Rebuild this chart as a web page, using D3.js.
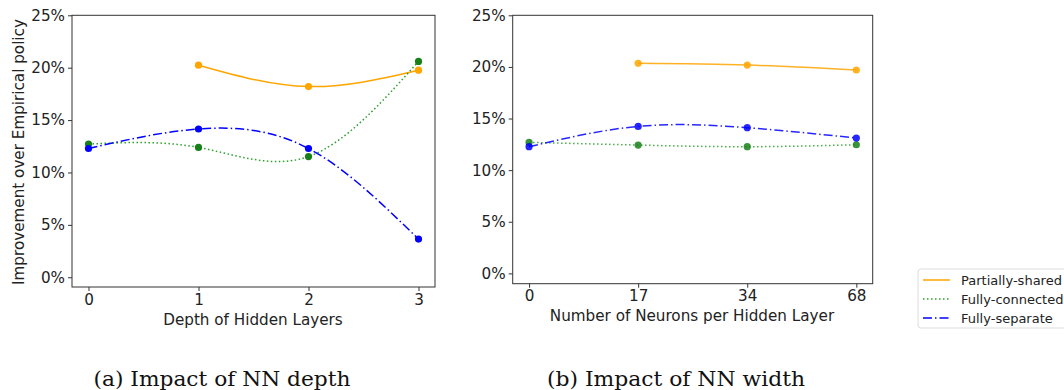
<!DOCTYPE html>
<html>
<head>
<meta charset="utf-8">
<script src="https://cdn.jsdelivr.net/npm/d3@7"></script>
<style>
  body { margin: 0; background: #fff; }
  svg { display: block; }
  .tick text { font-family: "DejaVu Sans", sans-serif; font-size: 15.2px; fill: #222; }
  .lbl { font-family: "DejaVu Sans", sans-serif; font-size: 15.2px; fill: #222; }
  .cap { font-family: "DejaVu Serif", "Liberation Serif", serif; font-size: 21px; fill: #111; }
  .leg { font-family: "DejaVu Sans", sans-serif; font-size: 13px; fill: #222; }
</style>
</head>
<body>
<script>
// data (percent improvement)
var depthTicks = ["0", "1", "2", "3"];
var depthShared = [null, 20.24, 18.2, 19.76];
var depthConnected = [12.71, 12.39, 11.52, 20.6];
var depthSeparate = [12.29, 14.15, 12.29, 3.64];

var widthTicks = ["0", "17", "34", "68"];
var widthShared = [null, 20.35, 20.18, 19.7];
var widthConnected = [12.69, 12.43, 12.27, 12.46];
var widthSeparate = [12.27, 14.24, 14.11, 13.11];

var yTicks = [0, 5, 10, 15, 20, 25];
var seriesNames = ["Partially-shared", "Fully-connected", "Fully-separate"];

var width = 1064, height = 390;
var svg = d3.select("body").append("svg")
    .attr("width", width)
    .attr("height", height);

var styles = [
  { line: "#ffa500", dot: "#ffa500", dash: null, lw: 1.5 },
  { line: "#2ca02c", dot: "#188018", dash: "1.5,2.5", lw: 1.5 },
  { line: "#0000ff", dot: "#0000ff", dash: "9,3,1.5,3", lw: 1.5 }
];

function panel(opt) {
  var x = d3.scaleLinear().domain([-0.15, 3.15]).range([opt.left, opt.right]);
  var y = d3.scaleLinear().domain([opt.ymin, 25]).range([opt.bottom, opt.top]);
  var g = svg.append("g");

  g.append("g")
      .attr("transform", "translate(0," + opt.bottom + ")")
      .call(d3.axisBottom(x).tickValues([0, 1, 2, 3])
        .tickFormat(function(d) { return opt.ticks[d]; })
        .tickSize(4).tickPadding(3))
      .call(function(a) { a.select(".domain").remove(); a.selectAll("line").attr("stroke", "#333"); });

  g.append("g")
      .attr("transform", "translate(" + opt.left + ",0)")
      .call(d3.axisLeft(y).tickValues(yTicks)
        .tickFormat(function(d) { return d + "%"; })
        .tickSize(4).tickPadding(3))
      .call(function(a) { a.select(".domain").remove(); a.selectAll("line").attr("stroke", "#333"); });

  g.append("rect")
      .attr("x", opt.left).attr("y", opt.top)
      .attr("width", opt.right - opt.left).attr("height", opt.bottom - opt.top)
      .attr("fill", "none").attr("stroke", "#333").attr("stroke-width", 1);

  var all = [opt.shared, opt.connected, opt.separate];

  all.forEach(function(vals, k) {
    var st = styles[k];
    var pts = vals.map(function(v, i) { return { i: i, v: v }; }).filter(function(d) { return d.v != null; });
    g.append("path")
        .datum(pts)
        .attr("fill", "none")
        .attr("stroke", st.line)
        .attr("stroke-width", st.lw)
        .attr("stroke-dasharray", st.dash)
        .attr("opacity", opt.alpha)
        .attr("d", d3.line()
          .x(function(d) { return x(d.i); })
          .y(function(d) { return y(d.v); })
          .curve(d3.curveNatural));
  });

  all.forEach(function(vals, k) {
    g.selectAll(null)
        .data(vals.map(function(v, i) { return { i: i, v: v }; }).filter(function(d) { return d.v != null; }))
        .enter().append("circle")
        .attr("cx", function(d) { return x(d.i); })
        .attr("cy", function(d) { return y(d.v); })
        .attr("r", 3.6)
        .attr("fill", styles[k].dot)
        .attr("opacity", opt.alpha);
  });

  g.append("text").attr("class", "lbl")
      .attr("x", opt.labelX).attr("y", opt.labelY)
      .attr("text-anchor", "middle")
      .text(opt.xlabel);

  g.append("text").attr("class", "cap")
      .attr("x", opt.capX).attr("y", 386)
      .attr("text-anchor", "middle")
      .attr("textLength", opt.capW)
      .attr("lengthAdjust", "spacingAndGlyphs")
      .text(opt.caption);
}

panel({ left: 72, right: 435, top: 15.3, bottom: 287, ymin: -0.93,
        ticks: depthTicks, shared: depthShared, connected: depthConnected, separate: depthSeparate,
        xlabel: "Depth of Hidden Layers", labelX: 253, labelY: 325,
        caption: "(a) Impact of NN depth", capX: 222, capW: 257, alpha: 1 });

panel({ left: 512.7, right: 872.7, top: 15.3, bottom: 283.7, ymin: -1,
        ticks: widthTicks, shared: widthShared, connected: widthConnected, separate: widthSeparate,
        xlabel: "Number of Neurons per Hidden Layer", labelX: 692, labelY: 321,
        caption: "(b) Impact of NN width", capX: 676, capW: 258, alpha: 0.85 });

svg.append("text").attr("class", "lbl")
    .attr("transform", "translate(23.5,152) rotate(-90)")
    .attr("text-anchor", "middle")
    .text("Improvement over Empirical policy");

// legend
var leg = svg.append("g").attr("transform", "translate(918,269)");
leg.append("rect")
    .attr("width", 150).attr("height", 59).attr("rx", 3)
    .attr("fill", "#fff").attr("stroke", "#ddd");
seriesNames.forEach(function(name, k) {
  var yy = 11 + k * 19;
  leg.append("line")
      .attr("x1", 5).attr("x2", 32).attr("y1", yy).attr("y2", yy)
      .attr("stroke", styles[k].line).attr("stroke-width", 1.5)
      .attr("stroke-dasharray", styles[k].dash);
  leg.append("text").attr("class", "leg")
      .attr("x", 43).attr("y", yy + 4.5)
      .text(name);
});
</script>
</body>
</html>
